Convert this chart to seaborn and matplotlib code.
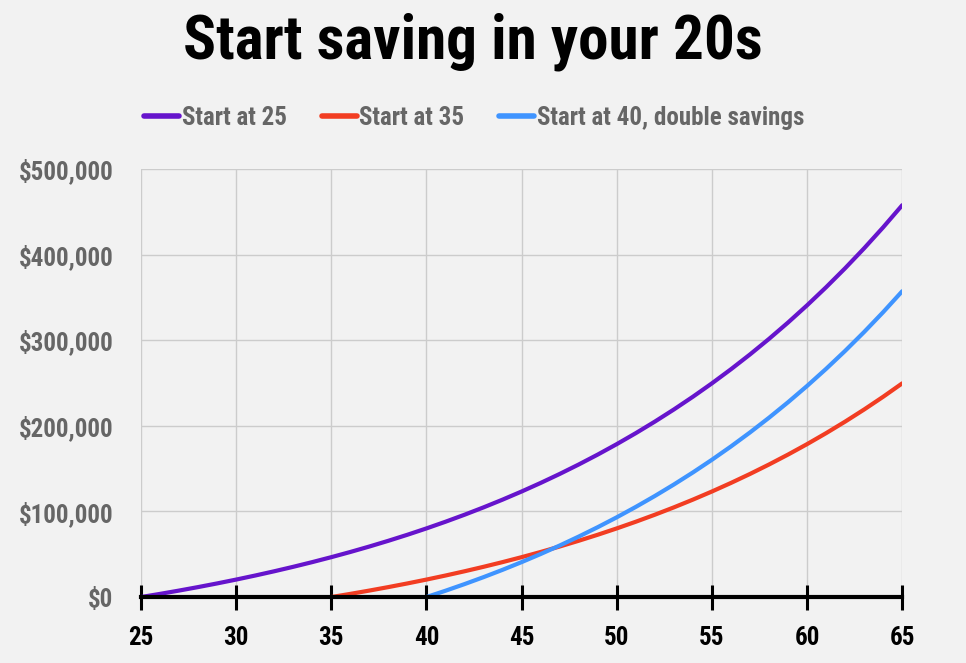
import matplotlib
matplotlib.use("Agg")
import matplotlib.pyplot as plt
import matplotlib.ticker as mticker
import seaborn as sns
import pandas as pd

# ---- data ----
ages_25 = list(range(25, 66))
start_25 = [0, 3684, 7556, 11626, 15904, 20402, 25129, 30099, 35322, 40813,
            46585, 52652, 59029, 65733, 72779, 80187, 87973, 96157, 104761, 113804,
            123310, 133303, 143806, 154847, 166453, 178653, 191477, 204958, 219127, 234022,
            249679, 266137, 283437, 301622, 320738, 340831, 361953, 384155, 407494, 432026,
            457813]
ages_35 = list(range(35, 66))
start_35 = [0, 3684, 7556, 11626, 15904, 20402, 25129, 30099, 35322, 40813,
            46585, 52652, 59029, 65733, 72779, 80187, 87973, 96157, 104761, 113804,
            123310, 133303, 143806, 154847, 166453, 178653, 191477, 204958, 219127, 234022,
            249679]
ages_40 = list(range(40, 66))
start_40_double = [0, 7368, 15112, 23252, 31808, 40804, 50258, 60198, 70644, 81626,
                   93170, 105304, 118058, 131466, 145558, 160374, 175946, 192314, 209522, 227608,
                   246620, 266606, 287612, 309694, 332906, 357306]

series_names = ["Start at 25", "Start at 35", "Start at 40, double savings"]
colors = ["#6614cc", "#f23d22", "#3f94ff"]
x_ticks = [25, 30, 35, 40, 45, 50, 55, 60, 65]
y_ticks = [0, 100000, 200000, 300000, 400000, 500000]

df = pd.concat([
    pd.DataFrame({"age": ages_25, "value": start_25, "series": series_names[0]}),
    pd.DataFrame({"age": ages_35, "value": start_35, "series": series_names[1]}),
    pd.DataFrame({"age": ages_40, "value": start_40_double, "series": series_names[2]}),
], ignore_index=True)

sns.set_theme(style="white")
FONT = ["Roboto Condensed", "DejaVu Sans"]
plt.rcParams["font.family"] = FONT
plt.rcParams["font.stretch"] = "condensed"

BG = "#f2f2f2"
fig = plt.figure(figsize=(9.66, 6.63), dpi=100, facecolor=BG)
ax = fig.add_axes([0.146, 0.0995, 0.788, 0.6455])
ax.set_facecolor(BG)

sns.lineplot(data=df, x="age", y="value", hue="series", hue_order=series_names,
             palette=dict(zip(series_names, colors)), linewidth=3.0, ax=ax,
             legend=True, zorder=3)

ax.set_xlim(25, 65)
ax.set_ylim(0, 500000)
ax.set_xticks(x_ticks)
ax.set_yticks(y_ticks)
ax.yaxis.set_major_formatter(mticker.FuncFormatter(lambda v, p: f"${v:,.0f}"))
ax.set_xlabel("")
ax.set_ylabel("")

ax.grid(True, color="#cccccc", linewidth=1.0, zorder=0)
for s in ["left", "right", "top"]:
    ax.spines[s].set_visible(False)
ax.spines["bottom"].set_color("black")
ax.spines["bottom"].set_linewidth(3)
ax.spines["bottom"].set_zorder(4)

ax.tick_params(axis="x", bottom=True, direction="inout", length=18, width=2.2, color="black",
               pad=12, labelsize=18, labelcolor="black")
ax.tick_params(axis="y", left=False, length=0, pad=20, labelsize=18, labelcolor="#666666")
for lab in ax.get_xticklabels() + ax.get_yticklabels():
    lab.set_fontweight("bold")
    lab.set_fontstretch("condensed")

sns.move_legend(ax, "center", bbox_to_anchor=(0.491, 0.822), bbox_transform=fig.transFigure,
                ncol=3, frameon=False, title=None, handlelength=1.4, handletextpad=0.1,
                columnspacing=1.4, fontsize=18)
leg = ax.get_legend()
for t in leg.get_texts():
    t.set_color("#666666")
    t.set_fontweight("bold")
    t.set_fontstretch("condensed")
for h in leg.legend_handles:
    h.set_linewidth(4)

fig.text(0.489, 0.9125, "Start saving in your 20s", ha="center", va="baseline",
         fontsize=44, fontweight="black", fontstretch="condensed", color="black")

fig.savefig("out.png", dpi=100, facecolor=BG)
